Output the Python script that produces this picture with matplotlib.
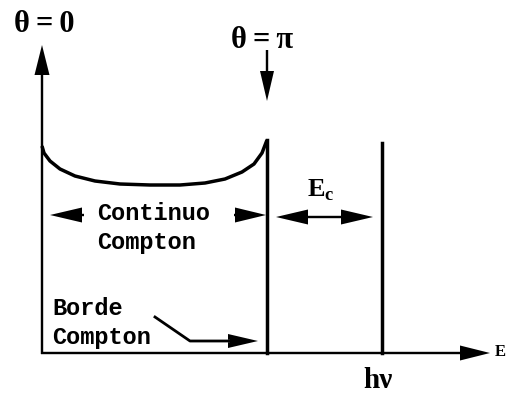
import numpy as np
import matplotlib.pyplot as plt

# ---------------------------------------------------------------- #
# schematic Compton spectrum, coordinates in image pixels (y down)

axis_origin = (42, 353)
axis_x_end = 490
axis_y_end = 45

edge_x = 267          # Compton edge
photo_x = 382         # photopeak h nu
photo_top = 143

curve_x = [42, 44, 50, 60, 75, 95, 120, 150, 180, 205, 225, 242, 254, 262, 267]
curve_y = [146, 153, 161, 169, 176, 181, 184, 185, 185, 183, 179, 172, 164, 153, 140]

leader_x = [155, 190, 232]
leader_y = [317, 341, 341]

labels = ["Continuo\nCompton", "Borde\nCompton", r"E$_\mathregular{c}$", "hν", "E"]

# ---------------------------------------------------------------- #

fig = plt.figure(figsize=(5.08, 3.96), dpi=100)
ax = fig.add_axes([0, 0, 1, 1])
ax.set_xlim(0, 508)
ax.set_ylim(396, 0)
ax.axis('off')

lw = 2.5
k = 'black'


def arrow(x0, y0, x1, y1, hl=30, hw=15):
    ax.arrow(x0, y0, x1 - x0, y1 - y0, width=2.4, head_width=hw, head_length=hl,
             length_includes_head=True, color=k, lw=0)


# axes
ox, oy = axis_origin
arrow(ox - 1, oy, axis_x_end, oy)
arrow(ox, oy + 1, ox, axis_y_end)

# continuum + edge + photopeak
ax.plot(curve_x, curve_y, color=k, lw=lw, solid_capstyle='butt')
ax.plot([edge_x, edge_x], [curve_y[-1], oy], color=k, lw=lw)
ax.plot([photo_x, photo_x], [photo_top, oy], color=k, lw=lw)

# theta = pi arrow
arrow(edge_x, 50, edge_x, 101, hl=30, hw=14)

# continuum arrows (heads only)
arrow(84, 215, 50, 215, hl=32)
arrow(234, 215, edge_x - 1, 215, hl=31)

# E_c arrow
arrow(324, 217, 276, 217, hl=32)
arrow(324, 217, 373, 217, hl=32)

# Borde Compton leader
ax.plot(leader_x, leader_y, color=k, lw=2.0)
arrow(leader_x[-1] - 2, 341, 258, 341, hl=30, hw=14)

serif = dict(family='Liberation Serif', weight='bold', color=k)
mono = dict(family='Liberation Mono', weight='bold', color=k)

ax.text(44, 25, "θ\u2009=\u20090", ha='center', va='center', fontsize=22, **serif)
ax.text(262, 40, "θ\u2009=\u2009π", ha='center', va='center', fontsize=22, **serif)
ax.text(97, 228, labels[0], ha='left', va='center', fontsize=17,
        linespacing=1.35, **mono)
ax.text(52, 323, labels[1], ha='left', va='center', fontsize=17,
        linespacing=1.35, **mono)
ax.text(321, 190, labels[2], ha='center', va='center', fontsize=19, **serif)
ax.text(378, 381, labels[3], ha='center', va='center', fontsize=21, **serif)
ax.text(500, 352, labels[4], ha='center', va='center', fontsize=12, **serif)

fig.savefig("out.png", dpi=100)
